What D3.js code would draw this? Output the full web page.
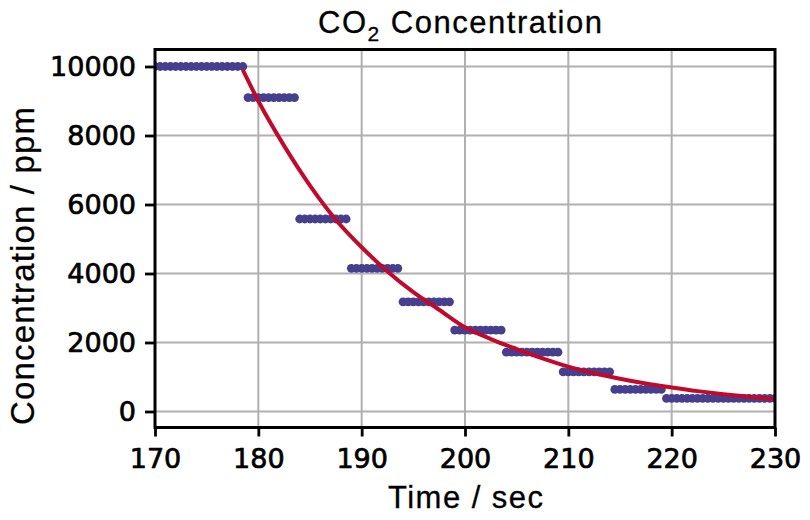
<!DOCTYPE html>
<html>
<head>
<meta charset="utf-8">
<script src="https://cdn.jsdelivr.net/npm/d3@7"></script>
<style>
  html, body { margin: 0; padding: 0; background: #fff; }
  svg { display: block; }
</style>
</head>
<body>
<svg id="chart" width="810" height="520"></svg>
<script>
// ---- Data ----
// Measured concentration, sampled every 0.5 s from 170 s to 230 s
const sampleStart = 170;
const sampleStep = 0.5;
const concentration = [
  10000,10000,10000,10000,10000,10000,10000,10000,10000,10000,10000,10000,10000,10000,10000,10000,10000,10000,
  9100,9100,9100,9100,9100,9100,9100,9100,9100,9100,
  5580,5580,5580,5580,5580,5580,5580,5580,5580,5580,
  4150,4150,4150,4150,4150,4150,4150,4150,4150,4150,
  3180,3180,3180,3180,3180,3180,3180,3180,3180,3180,
  2360,2360,2360,2360,2360,2360,2360,2360,2360,2360,
  1720,1720,1720,1720,1720,1720,1720,1720,1720,1720,1720,
  1150,1150,1150,1150,1150,1150,1150,1150,1150,1150,
  640,640,640,640,640,640,640,640,640,640,
  380,380,380,380,380,380,380,380,380,380,380,380,380,380,380,380,380,380,380,380,380,380
];
const sampleTimes = concentration.map((_, i) => sampleStart + i * sampleStep);

// Fitted decay curve
const fitTimes = [178.5, 180, 182.5, 185, 187.5, 190, 192.5, 195, 197.5, 200, 202.5, 205, 207.5, 210, 212.5, 215, 217.5, 220, 222.5, 225, 227.5, 230];
const fitValues = [9900, 9000, 7700, 6550, 5560, 4760, 4060, 3460, 2950, 2440, 2100, 1810, 1540, 1300, 1110, 950, 810, 695, 590, 500, 425, 365];

const xTicks = [170, 180, 190, 200, 210, 220, 230];
const yTicks = [0, 2000, 4000, 6000, 8000, 10000];
const xDomain = [170, 230];
const yDomain = [-464, 10493];

// ---- Layout ----
const L = 155, R = 775, T = 49.5, B = 427.5;
const svg = d3.select("#chart");

const x = d3.scaleLinear().domain(xDomain).range([L, R]);
const y = d3.scaleLinear().domain(yDomain).range([B, T]);

// Grid
const grid = svg.append("g");
grid.selectAll("line.gx").data(xTicks).join("line")
  .attr("x1", d => x(d)).attr("x2", d => x(d))
  .attr("y1", T).attr("y2", B)
  .attr("stroke", "#b0b0b0").attr("stroke-width", 2);
grid.selectAll("line.gy").data(yTicks).join("line")
  .attr("y1", d => y(d)).attr("y2", d => y(d))
  .attr("x1", L).attr("x2", R)
  .attr("stroke", "#b0b0b0").attr("stroke-width", 2);

// Clip
svg.append("clipPath").attr("id", "clip")
  .append("rect").attr("x", L).attr("y", T).attr("width", R - L).attr("height", B - T);

const plot = svg.append("g").attr("clip-path", "url(#clip)");

// Points
plot.selectAll("circle").data(sampleTimes).join("circle")
  .attr("cx", (d) => x(d))
  .attr("cy", (d, i) => y(concentration[i]))
  .attr("r", 4.4)
  .attr("fill", "#463f8e");

// Fit line
const line = d3.line()
  .x((d, i) => x(fitTimes[i]))
  .y((d, i) => y(fitValues[i]))
  .curve(d3.curveMonotoneX);
plot.append("path").datum(fitValues)
  .attr("d", line)
  .attr("fill", "none")
  .attr("stroke", "#c10a2b")
  .attr("stroke-width", 4);

// Axes
const xAxis = svg.append("g").attr("transform", `translate(0,${B})`)
  .call(d3.axisBottom(x).tickValues(xTicks).tickFormat(d3.format("d")).tickSize(9).tickPadding(12));
const yAxis = svg.append("g").attr("transform", `translate(${L},0)`)
  .call(d3.axisLeft(y).tickValues(yTicks).tickFormat(d3.format("d")).tickSize(10).tickPadding(9));
[xAxis, yAxis].forEach(g => {
  g.select(".domain").remove();
  g.selectAll(".tick line").attr("stroke", "#000").attr("stroke-width", 2.8);
  g.selectAll(".tick text").attr("fill", "#000")
    .attr("stroke", "#000").attr("stroke-width", 0.7)
    .style("font-family", "'DejaVu Sans', sans-serif").style("font-size", "27px");
});

// Spines
svg.append("rect").attr("x", L).attr("y", T).attr("width", R - L).attr("height", B - T)
  .attr("fill", "none").attr("stroke", "#000").attr("stroke-width", 3);

// Title
const title = svg.append("text")
  .attr("x", 318).attr("y", 33)
  .attr("textLength", 284).attr("lengthAdjust", "spacing")
  .attr("stroke", "#000").attr("stroke-width", 0.3)
  .style("font-family", "'Liberation Sans', Arial, sans-serif").style("font-size", "31px").attr("fill", "#000");
title.append("tspan").text("CO");
title.append("tspan").text("2").attr("dy", 8).style("font-size", "21px");
title.append("tspan").text(" Concentration").attr("dy", -8);

// Axis labels
svg.append("text")
  .attr("x", 388).attr("y", 508)
  .attr("textLength", 155).attr("lengthAdjust", "spacing")
  .attr("stroke", "#000").attr("stroke-width", 0.3)
  .style("font-family", "'Liberation Sans', Arial, sans-serif").style("font-size", "31px").attr("fill", "#000")
  .text("Time / sec");
svg.append("text")
  .attr("transform", "translate(34,425) rotate(-90)")
  .attr("x", 0).attr("y", 0)
  .attr("textLength", 318).attr("lengthAdjust", "spacing")
  .attr("stroke", "#000").attr("stroke-width", 0.3)
  .style("font-family", "'Liberation Sans', Arial, sans-serif").style("font-size", "33px").attr("fill", "#000")
  .text("Concentration / ppm");
</script>
</body>
</html>
